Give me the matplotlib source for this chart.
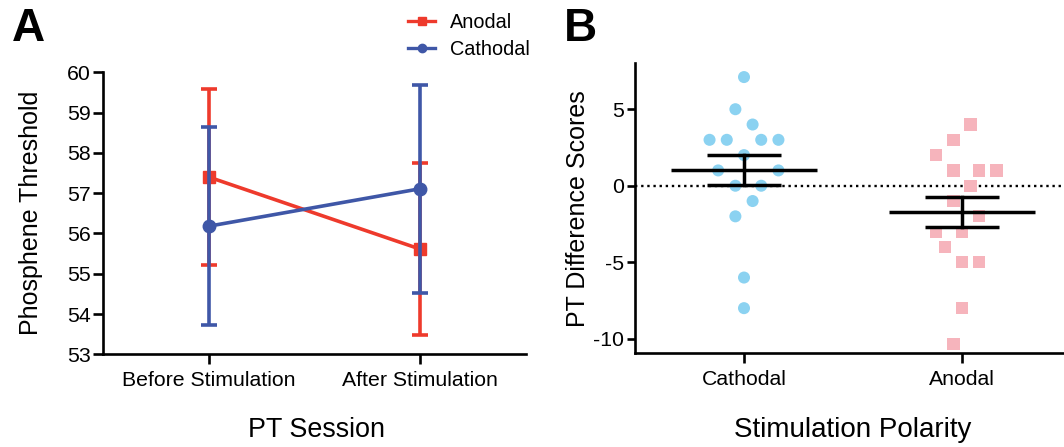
import matplotlib
matplotlib.use("Agg")
import matplotlib.pyplot as plt
from matplotlib.lines import Line2D
import numpy as np

plt.rcParams['font.family'] = ['Liberation Sans', 'DejaVu Sans']

# ---------------- Panel A data ----------------
sessions = ["Before Stimulation", "After Stimulation"]
anodal_mean = [57.4, 55.61]
anodal_err = [2.19, 2.13]
cathodal_mean = [56.18, 57.11]
cathodal_err = [2.46, 2.58]
a_yticks = [53, 54, 55, 56, 57, 58, 59, 60]

# ---------------- Panel B data ----------------
polarities = ["Cathodal", "Anodal"]
cathodal_scores = [7.1, 5, 4, 3, 3, 3, 3, 2, 1, 1, 0, 0, -1, -2, -6, -8]
cathodal_offsets = [0, -0.5, 0.5, -2, -1, 1, 2, 0, -1.5, 2, -0.5, 1, 0.5, -0.5, 0, 0]
anodal_scores = [4, 3, 2, 1, 1, 1, 0, -1, -2, -3, -3, -4, -5, -5, -8, -10.35]
anodal_offsets = [0.5, -0.5, -1.5, -0.5, 1, 2, 0.5, -0.5, 1, -1.5, 0, -1, 0, 1, 0, -0.5]
group_means = [1.01, -1.73]
group_sems = [0.97, 0.99]
b_yticks = [5, 0, -5, -10]
b_yticklabels = ["5", "0", "-5", "-10"]

RED = "#EE3A2C"
BLUE = "#3F57A7"
LBLUE = "#8BD2F1"
PINK = "#F6B4BC"

W, H = 1064, 447
fig = plt.figure(figsize=(W / 100, H / 100), dpi=100)

def fbox(l, t, r, b):
    return [l / W, 1 - b / H, (r - l) / W, (b - t) / H]

def style_axes(ax):
    for s in ["top", "right"]:
        ax.spines[s].set_visible(False)
    for s in ["left", "bottom"]:
        ax.spines[s].set_linewidth(1.9)
    ax.tick_params(axis="both", width=1.9, length=7, labelsize=15.3, pad=2)
    ax.tick_params(axis="x", pad=5)

# ---------------- Panel A ----------------
axA = fig.add_axes(fbox(103, 72.3, 526, 354.3))
xpos = np.arange(len(sessions))
axA.errorbar(xpos, anodal_mean, yerr=anodal_err, color=RED, marker="s", ms=8.5,
             lw=2.6, elinewidth=2.6, capsize=5.5, capthick=2.6, zorder=3)
axA.errorbar(xpos, cathodal_mean, yerr=cathodal_err, color=BLUE, marker="o", ms=9,
             lw=2.6, elinewidth=2.6, capsize=5.5, capthick=2.6, zorder=4)
axA.set_xlim(-0.5, 1.5)
axA.set_ylim(53, 60)
axA.set_yticks(a_yticks)
axA.set_xticks(xpos)
axA.set_xticklabels(sessions)
style_axes(axA)
axA.set_ylabel("Phosphene Threshold", fontsize=18, va="center")
axA.yaxis.set_label_coords((31 - 103) / 423, 0.5)
axA.set_xlabel("PT Session", fontsize=19.4, va="center")
axA.xaxis.set_label_coords(0.505, (354.3 - 430) / 282)

handles = [Line2D([], [], color=RED, marker="s", ms=6, lw=2.4),
           Line2D([], [], color=BLUE, marker="o", ms=6, lw=2.4)]
fig.legend(handles, ["Anodal", "Cathodal"], loc="upper left",
           bbox_to_anchor=(408 / W, 1 - 13 / H), frameon=False, borderpad=0,
           borderaxespad=0, fontsize=14.3, handlelength=1.36, handletextpad=0.75,
           labelspacing=0.38)
fig.text(12 / W, 1 - 29 / H, "A", fontsize=33, fontweight="bold", va="center", ha="left")

# ---------------- Panel B ----------------
axB = fig.add_axes(fbox(635, 63.3, 1071, 353.3))
step = 0.079
cx = np.array(cathodal_offsets) * step + 0
axx = np.array(anodal_offsets) * step + 1
axB.axhline(0, color="black", lw=1.7, ls=(0, (1, 1.6)), zorder=1)
axB.scatter(cx, cathodal_scores, s=75, marker="o", color=LBLUE, edgecolor="none", zorder=2)
axB.scatter(axx, anodal_scores, s=78, marker="s", color=PINK, edgecolor="none", zorder=2)
for i, (m, se) in enumerate(zip(group_means, group_sems)):
    axB.plot([i - 0.333, i + 0.333], [m, m], color="black", lw=2.5, zorder=3, solid_capstyle="butt")
    axB.plot([i - 0.17, i + 0.17], [m + se, m + se], color="black", lw=2.5, zorder=3, solid_capstyle="butt")
    axB.plot([i - 0.17, i + 0.17], [m - se, m - se], color="black", lw=2.5, zorder=3, solid_capstyle="butt")
    axB.plot([i, i], [m - se, m + se], color="black", lw=2.5, zorder=3)
axB.set_xlim(-0.5, 1.5)
axB.set_ylim(-10.95, 8.0)
axB.set_yticks(b_yticks)
axB.set_yticklabels(b_yticklabels)
axB.set_xticks([0, 1])
axB.set_xticklabels(polarities)
style_axes(axB)
axB.tick_params(axis="y", length=6)
axB.set_ylabel("PT Difference Scores", fontsize=18, va="center")
axB.yaxis.set_label_coords((578 - 635) / 436, 0.5)
axB.set_xlabel("Stimulation Polarity", fontsize=20, va="center")
axB.xaxis.set_label_coords(0.5, (353.3 - 430) / 290)
fig.text(564 / W, 1 - 29 / H, "B", fontsize=33, fontweight="bold", va="center", ha="left")

fig.savefig("out.png", dpi=100)
